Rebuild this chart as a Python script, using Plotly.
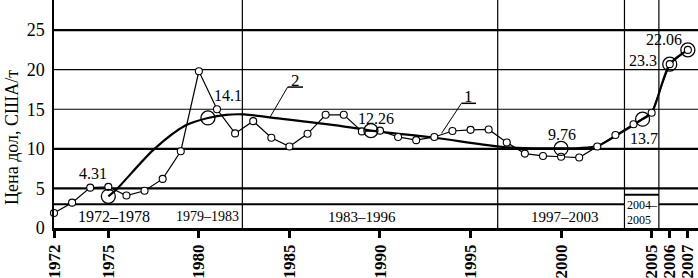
import plotly.graph_objects as go

# Series 1: annual prices (small circles)
years1 = [1972, 1973, 1974, 1975, 1976, 1977, 1978, 1979, 1980, 1981, 1982, 1983, 1984,
          1985, 1986, 1987, 1988, 1989, 1990, 1991, 1992, 1993, 1994, 1995, 1996, 1997,
          1998, 1999, 2000, 2001, 2002, 2003, 2004, 2005, 2006, 2007]
price1 = [1.9, 3.2, 5.1, 5.2, 4.1, 4.7, 6.2, 9.7, 19.8, 15.0, 11.95, 13.5, 11.4,
          10.3, 11.9, 14.3, 14.3, 12.2, 12.3, 11.5, 11.1, 11.5, 12.25, 12.4, 12.45, 10.8,
          9.4, 9.1, 9.0, 8.9, 10.3, 11.75, 13.1, 14.55, 20.7, 22.5]

# Series 2: period averages (large circles) and the smoothed trend curve
years2 = [1975, 1980.5, 1989.5, 2000, 2004.5, 2006, 2007]
price2 = [4.0, 13.9, 12.3, 10.05, 13.75, 20.7, 22.5]
trend_years = [1975, 1975.5, 1977.5, 1979.3, 1980.5, 1981.5, 1982.5, 1984, 1987.8, 1989.5,
               1993, 1997, 2000, 2001, 2002, 2003, 2004.5, 2005, 2006, 2007]
trend_price = [4.0, 5.0, 9.9, 13.0, 13.9, 14.3, 14.35, 13.95, 12.9, 12.3,
               11.4, 10.2, 10.05, 10.1, 10.35, 11.6, 13.75, 14.55, 20.7, 22.5]

value_labels = ["4.31", "14.1", "12.26", "9.76", "13.7", "23.3", "22.06"]
label_x = [1974.15, 1981.6, 1989.8, 2000.03, 2004.58, 2004.5, 2005.7]
label_y = [6.94, 16.8, 13.85, 11.78, 11.3, 21.2, 23.86]

periods = ["1972–1978", "1979–1983", "1983–1996", "1997–2003"]
period_x = [1975.3, 1980.5, 1989.0, 2000.2]
period_sizes = [16, 14, 15, 15]
separators = [1982.4, 1996.5, 2003.5, 2005.4]

xticks = [1972, 1975, 1980, 1985, 1990, 1995, 2000, 2005, 2006, 2007]
yticks = [0, 5, 10, 15, 20, 25]
hlines = [(25, 2.2), (20, 1.2), (15, 1.2), (10, 2.2), (5, 2.2)]

SERIF = "Liberation Serif, Times New Roman, serif"

fig = go.Figure()

fig.add_trace(go.Scatter(x=trend_years, y=trend_price, mode="lines",
                         line=dict(color="black", width=2.2, shape="spline", smoothing=0.8),
                         hoverinfo="skip", cliponaxis=False))
fig.add_trace(go.Scatter(x=years1, y=price1, mode="lines+markers",
                         line=dict(color="black", width=1.2),
                         marker=dict(symbol="circle", size=7, color="white",
                                     line=dict(color="black", width=1.1)),
                         cliponaxis=False))
fig.add_trace(go.Scatter(x=years2, y=price2, mode="markers",
                         marker=dict(symbol="circle", size=14, color="rgba(255,255,255,0)",
                                     line=dict(color="black", width=1.3)),
                         cliponaxis=False))

shapes = []
for yv, w in hlines:
    shapes.append(dict(type="line", xref="paper", x0=0, x1=1, yref="y", y0=yv, y1=yv,
                       line=dict(color="black", width=w), layer="below"))
# line at 3 with a gap for the 2004-2005 box
shapes.append(dict(type="line", xref="x", x0=1972, x1=separators[2], yref="y", y0=3, y1=3,
                   line=dict(color="black", width=2.2), layer="below"))
shapes.append(dict(type="line", xref="x", x0=separators[3], x1=2007.56, yref="y", y0=3, y1=3,
                   line=dict(color="black", width=2.2), layer="below"))
shapes.append(dict(type="line", xref="x", x0=separators[2], x1=separators[3], yref="y", y0=4.2, y1=4.2,
                   line=dict(color="black", width=2.2), layer="below"))
for sx in separators:
    shapes.append(dict(type="line", xref="x", x0=sx, x1=sx, yref="paper", y0=0, y1=1,
                       line=dict(color="black", width=1.2), layer="below"))
# small tick at y = 0
shapes.append(dict(type="line", xref="x", xsizemode="pixel", xanchor=1972, x0=-6, x1=0,
                   yref="y", y0=0, y1=0, line=dict(color="black", width=1.5)))
# curve labels 1 and 2 with underlines and leaders
shapes += [
    dict(type="line", xref="x", yref="y", x0=1984.9, x1=1985.75, y0=17.8, y1=17.8,
         line=dict(color="black", width=1.5)),
    dict(type="line", xref="x", yref="y", x0=1984.9, x1=1983.93, y0=17.8, y1=14.0,
         line=dict(color="black", width=1)),
    dict(type="line", xref="x", yref="y", x0=1994.5, x1=1995.3, y0=15.75, y1=15.75,
         line=dict(color="black", width=1.5)),
    dict(type="line", xref="x", yref="y", x0=1994.5, x1=1993.4, y0=15.75, y1=11.96,
         line=dict(color="black", width=1)),
]

annotations = []
for t, x, y in zip(value_labels, label_x, label_y):
    annotations.append(dict(text=t, x=x, y=y, xref="x", yref="y", showarrow=False,
                            font=dict(family=SERIF, size=16, color="black")))
for t, x, s in zip(periods, period_x, period_sizes):
    annotations.append(dict(text=t, x=x, y=1.4, xref="x", yref="y", showarrow=False,
                            font=dict(family=SERIF, size=s, color="black")))
annotations.append(dict(text="2004–", x=separators[2], xshift=1, xanchor="left", y=2.9,
                        xref="x", yref="y", showarrow=False,
                        font=dict(family=SERIF, size=12, color="black")))
annotations.append(dict(text="2005", x=separators[2], xshift=1, xanchor="left", y=1.07,
                        xref="x", yref="y", showarrow=False,
                        font=dict(family=SERIF, size=12, color="black")))
annotations.append(dict(text="2", x=1985.35, y=18.6, xref="x", yref="y", showarrow=False,
                        font=dict(family=SERIF, size=17, color="black")))
annotations.append(dict(text="1", x=1994.9, y=16.6, xref="x", yref="y", showarrow=False,
                        font=dict(family=SERIF, size=17, color="black")))
annotations.append(dict(text="Цена дол, США/т", xref="paper", yref="paper", x=0, xshift=-42,
                        y=0.395, xanchor="center", yanchor="middle", textangle=-90,
                        showarrow=False, font=dict(family=SERIF, size=18, color="black")))

fig.update_layout(
    width=698, height=278,
    margin=dict(l=54, r=0, t=0, b=50),
    paper_bgcolor="white", plot_bgcolor="white",
    showlegend=False,
    shapes=shapes, annotations=annotations,
    xaxis=dict(range=[1972, 2007.56], tickvals=xticks, ticktext=[str(v) for v in xticks],
               tickangle=-90, ticks="outside", ticklen=7, tickwidth=2.5, tickcolor="black",
               showgrid=False, zeroline=False, showline=True, linecolor="black", linewidth=2.5,
               automargin=False,
               tickfont=dict(family=SERIF, size=17, color="black", weight="bold")),
    yaxis=dict(range=[0, 28.8], tickvals=yticks, ticks="", showgrid=False, zeroline=False,
               showline=True, linecolor="black", linewidth=1.5, automargin=False,
               ticklabelstandoff=4,
               tickfont=dict(family=SERIF, size=18, color="black")),
)

fig.write_html("out.html", config={"displayModeBar": False},
               post_script="document.body.style.margin='0';document.body.style.overflow='hidden';")
